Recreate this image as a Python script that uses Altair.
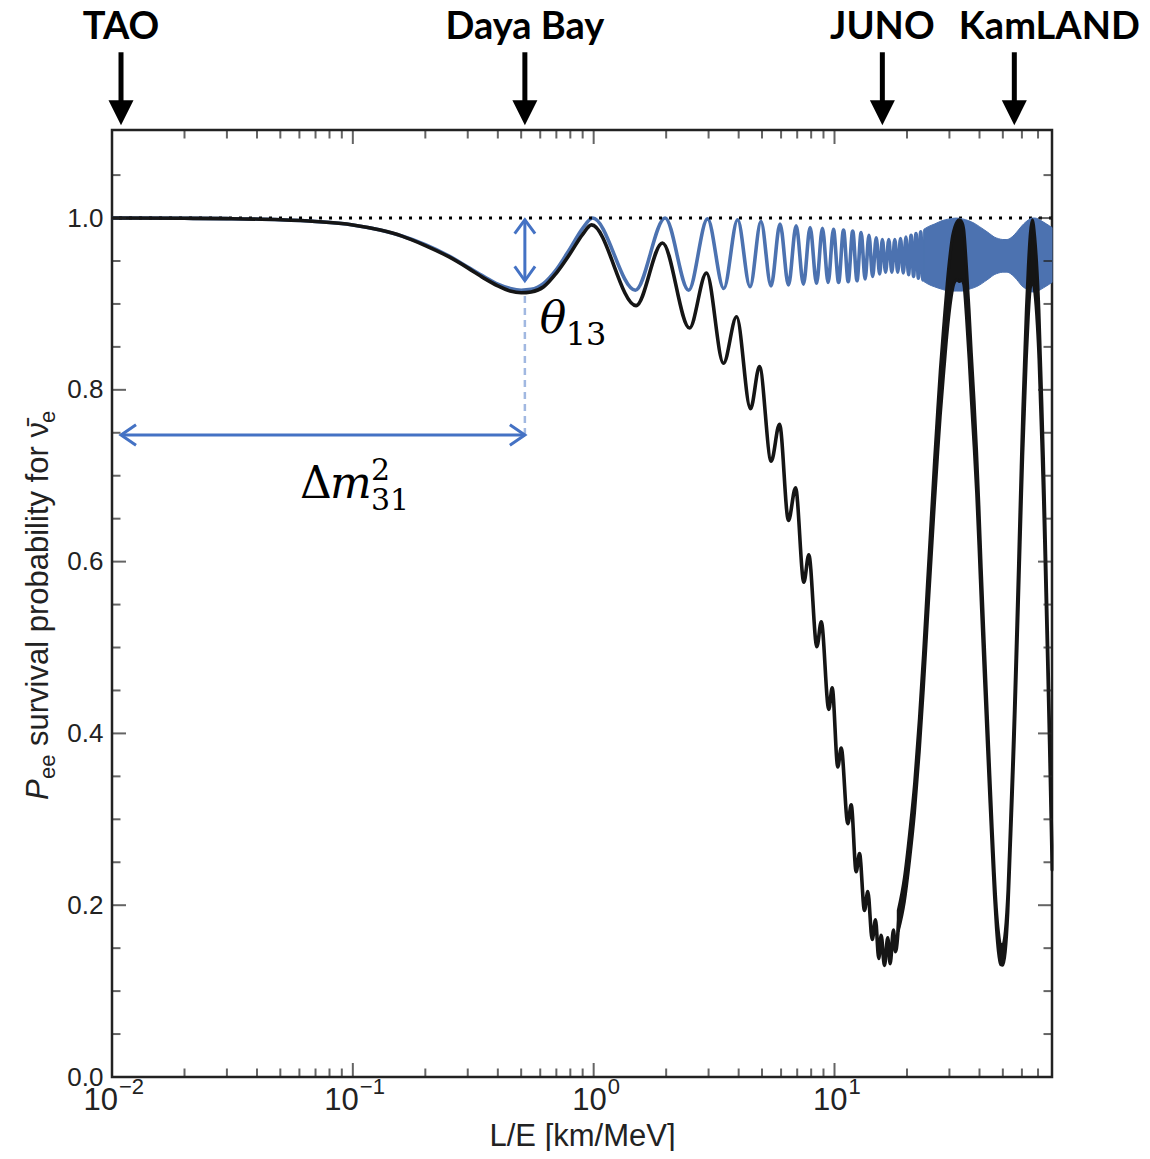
import altair as alt
import pandas as pd

# ---------------- values ----------------
# blue curve (theta13-only): smooth start, then its maxima / minima
blue_x = [0.01, 0.02, 0.03, 0.05, 0.07, 0.10, 0.13, 0.16, 0.20, 0.25, 0.30, 0.35,
          0.40, 0.45, 0.50, 0.55, 0.62, 0.70, 0.80, 0.90, 0.99,
          1.49, 1.98, 2.48, 2.97, 3.47, 3.96, 4.46, 4.95, 5.45, 5.94, 6.44, 6.93,
          7.43, 7.92, 8.42, 8.91, 9.41, 9.90, 10.4, 10.9, 11.4, 11.9, 12.4, 12.9,
          13.4, 13.9, 14.4, 14.9, 15.4, 15.8, 16.3, 16.8, 17.3, 17.8, 18.3, 18.8,
          19.3, 19.8, 20.3, 20.8, 21.3, 21.8, 22.3, 22.8, 23.3, 23.8]
blue_p = [1.000, 0.9997, 0.9993, 0.998, 0.996, 0.992, 0.986, 0.979, 0.969, 0.956, 0.943, 0.932,
          0.923, 0.918, 0.916, 0.917, 0.924, 0.940, 0.965, 0.988, 1.000,
          0.916, 1.000, 0.916, 0.999, 0.918, 0.998, 0.920, 0.996, 0.921, 0.993, 0.922, 0.991,
          0.923, 0.989, 0.924, 0.988, 0.925, 0.987, 0.925, 0.986, 0.926, 0.985, 0.927, 0.983,
          0.929, 0.980, 0.932, 0.977, 0.935, 0.975, 0.937, 0.975, 0.937, 0.975, 0.937, 0.976,
          0.936, 0.978, 0.934, 0.980, 0.932, 0.982, 0.930, 0.984, 0.928, 0.986]

# blue curve where the oscillations merge into a band: upper / lower edge
blue_band_x = [23.5, 24.5, 26.0, 28.0, 30.0, 32.0, 34.0, 36.0, 38.0, 40.0,
               42.0, 44.0, 46.0, 48.0, 50.0, 52.0, 54.0, 56.0, 58.0, 60.0, 62.0, 64.0,
               66.0, 68.0, 70.0, 72.0, 74.0, 76.0, 78.0, 80.0]
blue_band_hi = [0.987, 0.990, 0.993, 0.997, 0.999, 1.000, 0.999, 0.997, 0.994, 0.990,
                0.986, 0.982, 0.978, 0.976, 0.975, 0.975, 0.977, 0.981, 0.986, 0.991, 0.995, 0.998,
                1.000, 1.000, 0.999, 0.997, 0.995, 0.993, 0.991, 0.989]
blue_band_lo = [0.926, 0.923, 0.920, 0.917, 0.915, 0.915, 0.915, 0.917, 0.919, 0.922,
                0.926, 0.930, 0.934, 0.936, 0.937, 0.937, 0.935, 0.931, 0.926, 0.921, 0.918, 0.915,
                0.914, 0.914, 0.915, 0.917, 0.919, 0.921, 0.923, 0.925]

# black curve (full three-flavour): smooth start, then its wiggles
black_x = [0.01, 0.02, 0.03, 0.05, 0.07, 0.10, 0.13, 0.16, 0.20, 0.25, 0.30, 0.35,
           0.40, 0.45, 0.50, 0.55, 0.62, 0.70, 0.80, 0.90, 0.98,
           1.50, 1.93, 2.50, 2.94, 3.46, 3.92, 4.48, 4.88, 5.46, 5.91, 6.44, 6.89,
           7.46, 7.82, 8.45, 8.81, 9.47, 9.78, 10.32, 10.66, 11.36, 11.73, 12.30, 12.70,
           13.32, 13.75, 14.34, 14.80, 15.27, 15.62, 16.12, 16.64, 17.02, 17.57, 17.91, 18.6]
black_p = [1.000, 0.9997, 0.9993, 0.998, 0.996, 0.992, 0.986, 0.979, 0.968, 0.955, 0.942, 0.930,
           0.921, 0.915, 0.913, 0.914, 0.920, 0.936, 0.959, 0.981, 0.992,
           0.898, 0.971, 0.872, 0.936, 0.831, 0.885, 0.778, 0.827, 0.717, 0.760, 0.648, 0.686,
           0.576, 0.608, 0.501, 0.530, 0.428, 0.453, 0.361, 0.383, 0.295, 0.317, 0.239, 0.260,
           0.194, 0.216, 0.160, 0.183, 0.138, 0.165, 0.130, 0.162, 0.132, 0.171, 0.146, 0.194]

# black curve where the wiggles merge: centre of the thick trace and its half thickness
black_band_x = [18.4, 19.5, 20.5, 21.5, 22.5, 23.4, 24.3, 25.2, 26.0, 26.8, 27.5, 28.5,
                29.4, 30.2, 30.9, 31.6, 32.3, 33.0, 33.7, 34.4, 35.3, 36.2, 37.0, 38.0,
                38.9, 39.8, 40.7, 41.9, 43.1, 44.2, 45.2, 46.1, 47.0, 47.9, 48.9, 50.0,
                51.2, 52.5, 53.7, 54.8, 55.8, 56.9, 58.0, 58.8, 59.7, 60.5, 61.4, 62.6,
                63.8, 65.0, 66.3, 67.9, 69.5, 70.6, 71.6, 72.6, 73.7, 74.7, 75.8, 76.9,
                78.0, 79.0, 80.0]
black_band_mid = [0.182, 0.218, 0.268, 0.325, 0.398, 0.472, 0.552, 0.627, 0.692, 0.750, 0.797, 0.852,
                  0.897, 0.928, 0.948, 0.958, 0.962, 0.962, 0.962, 0.955, 0.915, 0.865, 0.815, 0.760,
                  0.705, 0.640, 0.570, 0.485, 0.405, 0.335, 0.275, 0.225, 0.185, 0.158, 0.143, 0.142,
                  0.158, 0.205, 0.278, 0.345, 0.410, 0.490, 0.570, 0.630, 0.695, 0.750, 0.800, 0.865,
                  0.915, 0.950, 0.962, 0.945, 0.905, 0.865, 0.812, 0.760, 0.698, 0.633, 0.558, 0.483,
                  0.405, 0.330, 0.255]
black_band_half = [0.012, 0.014, 0.016, 0.017, 0.019, 0.020, 0.022, 0.023, 0.025, 0.026, 0.027, 0.028,
                   0.029, 0.030, 0.031, 0.032, 0.034, 0.036, 0.034, 0.032, 0.030, 0.029, 0.028, 0.027,
                   0.025, 0.024, 0.022, 0.020, 0.018, 0.016, 0.014, 0.013, 0.012, 0.012, 0.012, 0.012,
                   0.012, 0.013, 0.014, 0.016, 0.018, 0.020, 0.022, 0.024, 0.025, 0.027, 0.028, 0.029,
                   0.030, 0.032, 0.036, 0.032, 0.030, 0.029, 0.028, 0.027, 0.025, 0.024, 0.022, 0.020,
                   0.018, 0.016, 0.014]

# detectors marked above the frame
det_names = ["TAO", "Daya Bay", "JUNO", "KamLAND"]
det_arrow_x = [0.0109, 0.518, 15.8, 55.8]
det_label_x = [0.0109, 0.518, 15.8, 78.0]

# axis range and ticks
X_MIN, X_MAX = 0.01, 80.0
Y_MIN, Y_MAX = 0.0, 1.1025
x_major = [0.01, 0.1, 1.0, 10.0]
x_exp = ["\u22122", "\u22121", "0", "1"]
x_minor = [m * d for d in (0.01, 0.1, 1.0, 10.0) for m in range(2, 10) if m * d < 80]
y_major = [0.0, 0.2, 0.4, 0.6, 0.8, 1.0]
y_minor = [round(0.05 * i, 2) for i in range(1, 22) if i % 4 != 0]

# y-axis title pieces (P italic, subscripts smaller)
ytitle_text = ["P", "ee", "survival probability for \u03bd\u0304", "e"]

# annotation geometry (data coordinates)
ann_x_left, ann_x_right, ann_y_h = 0.0109, 0.518, 0.7474
ann_v_top, ann_v_bot, ann_dash_top = 0.998, 0.927, 0.912
ytitle_anchor_x, ytitle_anchor_y = 0.005425, 0.3225

# ---------------- chart ----------------
BLUE = "#4c72b0"
ABLUE = "#4472c4"
INK = "#151515"
FRAME = "#222222"

xs = alt.Scale(type="log", domain=[X_MIN, X_MAX], nice=False)
ys = alt.Scale(domain=[Y_MIN, Y_MAX], nice=False, zero=False)
x_axis = alt.Axis(title="L/E [km/MeV]", labels=False, ticks=False, domain=False,
                  grid=False, titlePadding=44)
y_axis = alt.Axis(title="", values=y_major, format=".1f", ticks=False, domain=False,
                  grid=False, labelPadding=9)


def X(f):
    return alt.X(f, type="quantitative", scale=xs, axis=x_axis)


def Y(f):
    return alt.Y(f, type="quantitative", scale=ys, axis=y_axis)


blue_df = pd.DataFrame({"x": blue_x, "p": blue_p})
blue_band_df = pd.DataFrame({"x": blue_band_x, "hi": blue_band_hi, "lo": blue_band_lo})
black_df = pd.DataFrame({"x": black_x, "p": black_p})
bb = pd.DataFrame({"x": black_band_x, "m": black_band_mid, "h": black_band_half})
bb["hi"] = bb["m"] + bb["h"]
bb["lo"] = bb["m"] - bb["h"]

dotted = alt.Chart(pd.DataFrame({"p": [1.0]})).mark_rule(
    color="black", strokeWidth=3, strokeDash=[3, 7]).encode(y=Y("p"))

blue_band = alt.Chart(blue_band_df).mark_area(
    color=BLUE, interpolate="monotone", stroke=BLUE, strokeWidth=1).encode(
    x=X("x"), y=Y("hi"), y2="lo")
blue_line = alt.Chart(blue_df).mark_line(
    color=BLUE, strokeWidth=3.6, interpolate="monotone").encode(x=X("x"), y=Y("p"))

black_band = alt.Chart(bb).mark_area(
    color=INK, interpolate="monotone", stroke=INK, strokeWidth=3, strokeJoin="round").encode(
    x=X("x"), y=Y("hi"), y2="lo")
black_line = alt.Chart(black_df).mark_line(
    color=INK, strokeWidth=3.6, interpolate="monotone", strokeJoin="round").encode(
    x=X("x"), y=Y("p"))

# annotation arrows
hline = alt.Chart(pd.DataFrame({"x": [ann_x_left], "x2": [ann_x_right], "y": [ann_y_h]})).mark_rule(
    color=ABLUE, strokeWidth=3).encode(x=X("x"), x2="x2", y=Y("y"))
vline = alt.Chart(pd.DataFrame({"x": [ann_x_right], "y": [ann_v_bot], "y2": [ann_v_top]})).mark_rule(
    color=ABLUE, strokeWidth=3).encode(x=X("x"), y=Y("y"), y2="y2")
dline = alt.Chart(pd.DataFrame({"x": [ann_x_right], "y": [ann_y_h], "y2": [ann_dash_top]})).mark_rule(
    color=ABLUE, strokeWidth=2.5, strokeDash=[7, 5], opacity=0.5).encode(x=X("x"), y=Y("y"), y2="y2")

heads_df = pd.DataFrame({
    "x": [ann_x_left, ann_x_right, ann_x_right, ann_x_right],
    "y": [ann_y_h, ann_y_h, ann_v_top, ann_v_bot],
    "shape": ["M1.25,-0.85L0,0L1.25,0.85", "M-1.25,-0.85L0,0L-1.25,0.85",
              "M-0.85,1.15L0,0L0.85,1.15", "M-0.85,-1.2L0,0L0.85,-1.2"],
})
heads = alt.Chart(heads_df).mark_point(
    filled=False, color=ABLUE, strokeWidth=3, size=576, opacity=1).encode(
    x=X("x"), y=Y("y"), shape=alt.Shape("shape:N", scale=None, legend=None))

# annotation texts
ann_df = pd.DataFrame({
    "t": ["\u03b8", "13", "\u0394", "m", "2", "31"],
    "x": [0.597, 0.765, 0.0603, 0.0803, 0.1189, 0.1189],
    "y": [0.866, 0.852, 0.674, 0.674, 0.695, 0.660],
    "size": [44, 32, 44, 44, 30, 30],
    "style": ["italic", "normal", "normal", "italic", "normal", "normal"],
})
ann_layers = []
for st in ["italic", "normal"]:
    for sz in sorted(set(ann_df["size"])):
        sub = ann_df[(ann_df["style"] == st) & (ann_df["size"] == sz)]
        if len(sub) == 0:
            continue
        ann_layers.append(alt.Chart(sub).mark_text(
            font="DejaVu Serif", fontSize=int(sz), fontStyle=st, align="left",
            baseline="alphabetic", color="black").encode(x=X("x"), y=Y("y"), text="t:N"))

# y-axis title, written as rotated pieces that share one anchor
yt_df = pd.DataFrame({"x": [ytitle_anchor_x], "y": [ytitle_anchor_y]})
yt_style = [  # (text index, size, style, offset along text, offset across text)
    (0, 31, "italic", 0, 0),
    (1, 22, "normal", 21, 7),
    (2, 31, "normal", 54, 0),
    (3, 22, "normal", 377, 7),
]
ytitle_layers = []
for i, sz, st, ddx, ddy in yt_style:
    ytitle_layers.append(alt.Chart(yt_df).mark_text(
        font="Liberation Sans", fontSize=sz, fontStyle=st, angle=270, align="left",
        baseline="alphabetic", dx=ddx, dy=ddy, color=FRAME, text=ytitle_text[i]).encode(
        x=X("x"), y=Y("y")))

# detector arrows & labels above the frame
det_df = pd.DataFrame({"name": det_names, "ax": det_arrow_x, "lx": det_label_x})
det_shaft = alt.Chart(det_df).mark_rule(color="black", strokeWidth=5).encode(
    x=X("ax"), y=alt.datum(1.193), y2=alt.datum(1.13))
det_head = alt.Chart(det_df).mark_point(
    filled=True, color="black", size=625, opacity=1,
    shape="M-1,-2L1,-2L0,0Z").encode(x=X("ax"), y=alt.datum(1.108))
det_text = alt.Chart(det_df).mark_text(
    font="Lato", fontWeight="bold", fontSize=38, align="center", baseline="alphabetic",
    color="black").encode(x=X("lx"), y=alt.datum(1.2085), text="name:N")


# inward ticks on all four sides
def xticks(vals, length):
    d = pd.DataFrame({"v": vals})
    bot = alt.Chart(d).mark_tick(orient="vertical", size=length, thickness=2,
                                 color=FRAME, yOffset=-length / 2).encode(
        x=X("v"), y=alt.datum(Y_MIN))
    top = alt.Chart(d).mark_tick(orient="vertical", size=length, thickness=2,
                                 color=FRAME, yOffset=length / 2).encode(
        x=X("v"), y=alt.datum(Y_MAX))
    return [bot, top]


def yticks(vals, length):
    d = pd.DataFrame({"v": vals})
    left = alt.Chart(d).mark_tick(orient="horizontal", size=length, thickness=2,
                                  color=FRAME, xOffset=length / 2).encode(
        y=Y("v"), x=alt.datum(X_MIN))
    right = alt.Chart(d).mark_tick(orient="horizontal", size=length, thickness=2,
                                   color=FRAME, xOffset=-length / 2).encode(
        y=Y("v"), x=alt.datum(X_MAX))
    return [left, right]


tick_layers = (xticks(x_major, 14) + xticks(x_minor, 8.5)
               + yticks(y_major, 14) + yticks(y_minor, 8.5))

# x tick labels 10^n (base and exponent as separate texts)
xl = pd.DataFrame({"v": x_major, "e": x_exp})
xl["neg"] = xl["e"].str.startswith("\u2212")
xlab_layers = []
for neg, dx in [(True, 6), (False, 13)]:
    sub = xl[xl["neg"] == neg]
    xlab_layers.append(alt.Chart(sub).mark_text(
        font="Liberation Sans", fontSize=31, align="right", baseline="alphabetic",
        dx=dx, dy=33, color=FRAME, text="10").encode(x=X("v"), y=alt.datum(Y_MIN)))
    xlab_layers.append(alt.Chart(sub).mark_text(
        font="Liberation Sans", fontSize=22, align="left", baseline="alphabetic",
        dx=dx + 1, dy=17, color=FRAME).encode(x=X("v"), y=alt.datum(Y_MIN), text="e:N"))

chart = alt.layer(
    blue_line, dotted, blue_band, black_band, black_line,
    dline, hline, vline, heads, *ann_layers, *ytitle_layers,
    det_shaft, det_head, det_text, *tick_layers, *xlab_layers,
).properties(
    width=940, height=947,
    padding={"left": 104, "top": 122, "right": 88, "bottom": 74},
    autosize=alt.AutoSizeParams(type="none"),
).configure_view(
    stroke=FRAME, strokeWidth=2.5
).configure_axis(
    labelFont="Liberation Sans", labelFontSize=26, labelColor=FRAME,
    titleFont="Liberation Sans", titleFontSize=31, titleColor=FRAME,
    titleFontWeight="normal",
)

chart.save("out.html", embed_options={"renderer": "svg", "actions": False})
